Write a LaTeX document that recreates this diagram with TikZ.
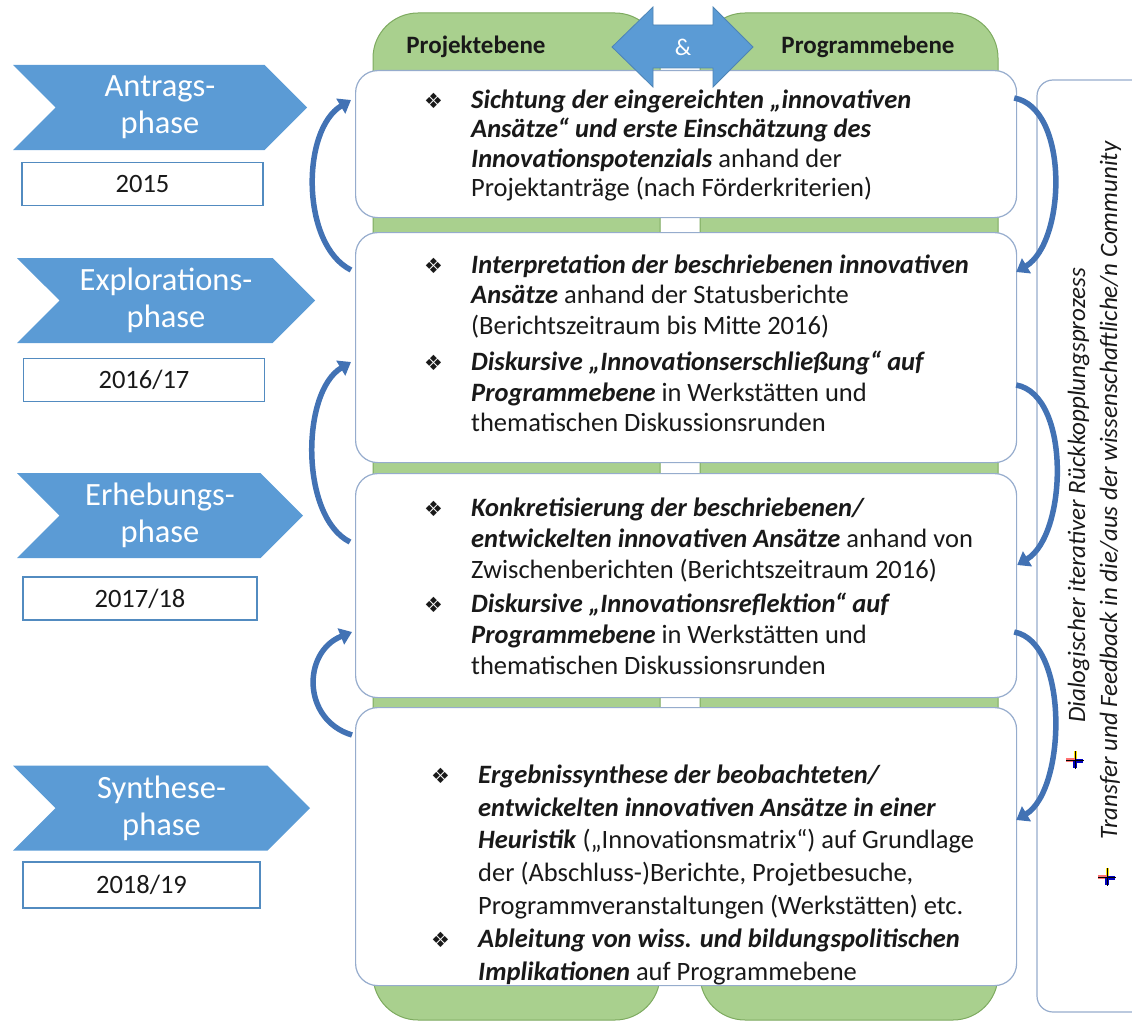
\documentclass[tikz,border=0pt]{standalone}
\usepackage{fontspec}
\setmainfont{Carlito}
\newfontfamily\dejavu{DejaVu Sans}
\usetikzlibrary{calc,arrows.meta,shapes.symbols}

\definecolor{phaseblue}{RGB}{91,155,213}
\definecolor{arcblue}{RGB}{66,114,180}
\definecolor{gfill}{RGB}{169,208,142}
\definecolor{gline}{RGB}{125,170,95}
\definecolor{boxline}{RGB}{150,172,205}
\definecolor{txt}{RGB}{25,25,25}

\newcommand{\bul}{\makebox[47pt][l]{\dejavu\fontsize{21}{21}\selectfont ❖}}
\newcommand{\ind}{\hspace*{47pt}}
\newcommand{\bi}[1]{\textbf{\textit{#1}}}

\tikzset{fbmark/.pic={
  \fill[yellow!85!orange] (-1.5,-9) rectangle (1.5,0);
  \fill[red!55] (-9,-2) rectangle (0,2);
  \fill[blue!75!black] (0,-1.5) rectangle (8,2.5);
  \fill[blue!75!black] (-2,0) rectangle (2,8);
  \draw[black, line width=1] (0,-9) -- (0,9) (-9,0) -- (9,0);
}}

\begin{document}
\begin{tikzpicture}[x=1pt, y=-1pt,
  phase/.style={signal, signal from=west, signal to=east, fill=phaseblue, text=white, inner sep=0, minimum height=85, align=center, font=\fontsize{32.5}{37}\selectfont},
  yearbox/.style={draw=phaseblue!90!black, line width=1.2, fill=white, minimum width=241, minimum height=43, inner sep=0, font=\fontsize{26.5}{26.5}\selectfont, text=txt},
  gcol/.style={fill=gfill, draw=gline, line width=1, rounded corners=45},
  wbox/.style={draw=boxline, fill=white, line width=1.2, rounded corners=22, anchor=north west, inner sep=0},
  txtblock/.style={anchor=north west, inner sep=0, align=left, text=txt, font=\fontsize{26.5}{31}\selectfont},
  head/.style={font=\fontsize{25}{25}\selectfont\bfseries, text=txt, inner sep=0},
  loopar/.style={draw=arcblue, line width=5.5, -{Triangle[width=17pt,length=12pt]}},
  fbtext/.style={rotate=90, anchor=base west, inner sep=0, font=\fontsize{25}{29}\selectfont\itshape, text=txt}]

  \useasboundingbox (0,0) rectangle (1132,1022);

  % Side box
  \draw[boxline, line width=1.2, rounded corners=16] (1140,80) -| (1037,1012) -- (1140,1012);

  % Green columns
  \filldraw[gcol] (373,13) rectangle (660,1020);
  \filldraw[gcol] (700,13) rectangle (998,1020);

  % White boxes
  \node[wbox, minimum width=661, minimum height=147] (b1) at (355,70) {};
  \node[wbox, minimum width=661, minimum height=230] (b2) at (355,232) {};
  \node[wbox, minimum width=661, minimum height=224] (b3) at (355,473) {};
  \node[wbox, minimum width=661, minimum height=278] (b4) at (355,707) {};

  % Double arrow
  \filldraw[fill=phaseblue, draw=phaseblue!85!black, line width=0.8]
    (612,47) -- (653,7) -- (653,25) -- (713,25) -- (713,7) -- (753,47)
    -- (713,87) -- (713,68) -- (653,68) -- (653,87) -- cycle;
  \node[text=white, font=\fontsize{24}{24}\selectfont] (amp) at (683,47) {\&};

  % Headings
  \node[head] (hproj) at (476,47) {Projektebene};
  \node[head] (hprog) at (868,47) {Programmebene};

  % Box texts
  \node[txtblock, font=\fontsize{26.5}{29.5}\selectfont] (t1) at (424,86) {%
    \bul\rule{0pt}{22pt}\bi{Sichtung der eingereichten „innovativen}\\
    \ind\bi{Ansätze“ und erste Einschätzung des}\\
    \ind\bi{Innovationspotenzials} anhand der\\
    \ind Projektanträge (nach Förderkriterien)};
  \node[txtblock, font=\fontsize{26.5}{30.5}\selectfont] (t2) at (424,251) {%
    \bul\rule{0pt}{22pt}\bi{Interpretation der beschriebenen innovativen}\\
    \ind\bi{Ansätze} anhand der Statusberichte\\
    \ind(Berichtszeitraum bis Mitte 2016)\\[6pt]
    \bul\bi{Diskursive „Innovationserschließung“ auf}\\
    \ind\bi{Programmebene} in Werkstätten und\\
    \ind thematischen Diskussionsrunden};
  \node[txtblock] (t3) at (424,494) {%
    \bul\rule{0pt}{22pt}\bi{Konkretisierung der beschriebenen/}\\
    \ind\bi{entwickelten innovativen Ansätze} anhand von\\
    \ind Zwischenberichten (Berichtszeitraum 2016)\\[3pt]
    \bul\bi{Diskursive „Innovationsreflektion“ auf}\\
    \ind\bi{Programmebene} in Werkstätten und\\
    \ind thematischen Diskussionsrunden};
  \node[txtblock, font=\fontsize{26.5}{32.8}\selectfont] (t4) at (431,761) {%
    \bul\rule{0pt}{22pt}\bi{Ergebnissynthese der beobachteten/}\\
    \ind\bi{entwickelten innovativen Ansätze in einer}\\
    \ind\bi{Heuristik} („Innovationsmatrix“) auf Grundlage\\
    \ind der (Abschluss-)Berichte, Projetbesuche,\\
    \ind Programmveranstaltungen (Werkstätten) etc.\\
    \bul\bi{Ableitung von wiss. und bildungspolitischen}\\
    \ind\bi{Implikationen} auf Programmebene};

  % Phases
  \node[phase, minimum width=294] (p1) at (160,107.5) {Antrags-\\phase};
  \node[phase, minimum width=298] (p2) at (166,300.5) {Explorations-\\phase};
  \node[phase, minimum width=286] (p3) at (160,515.5) {Erhebungs-\\phase};
  \node[phase, minimum width=297] (p4) at (161.5,808) {Synthese-\\phase};

  % Years
  \node[yearbox] (y1) at (142.5,184) {2015};
  \node[yearbox] (y2) at (144,380) {2016/17};
  \node[yearbox, minimum width=234] (y3) at (140,598.5) {2017/18};
  \node[yearbox, minimum width=237, minimum height=46] (y4) at (141.5,885) {2018/19};

  % Left loops
  \draw[loopar] ($(b2.north west)+(-4,38)$) .. controls +(-50,-25) and +(-50,30) .. ($(b1.north west)+(-4,30)$);
  \draw[loopar] ($(b3.north west)+(-5,69)$) .. controls +(-50,-25) and +(-50,30) .. ($(b2.north west)+(-4,130)$);
  \draw[loopar] ($(b4.north west)+(-3,28)$) .. controls +(-50,-15) and +(-50,20) .. ($(b3.north west)+(-3,159)$);

  % Right loops
  \draw[loopar] ($(b1.north east)+(-3,28)$) .. controls +(55,10) and +(50,-30) .. ($(b2.north east)+(-1,40)$);
  \draw[loopar] ($(b2.north east)+(-1,153)$) .. controls +(55,10) and +(50,-30) .. ($(b3.north east)+(0,92)$);
  \draw[loopar] ($(b3.north east)+(-3,159)$) .. controls +(55,10) and +(50,-30) .. ($(b4.north east)+(-1,113)$);

  % Feedback texts
  \node[fbtext] (fb1) at (1085,723) {Dialogischer iterativer Rückkopplungsprozess};
  \node[fbtext] (fb2) at (1117,840) {Transfer und Feedback in die/aus der wissenschaftliche/n Community};
  \pic at ($(fb1.base west)+(-10,37)$) {fbmark};
  \pic at ($(fb2.base west)+(-10,37)$) {fbmark};

\end{tikzpicture}
\end{document}
